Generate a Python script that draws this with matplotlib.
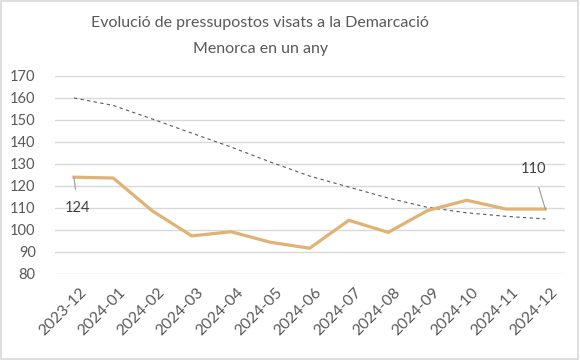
import matplotlib
matplotlib.use("Agg")
import matplotlib.pyplot as plt
import matplotlib.transforms as mtransforms
from matplotlib.patches import Rectangle

months = ["2023-12", "2024-01", "2024-02", "2024-03", "2024-04", "2024-05", "2024-06",
          "2024-07", "2024-08", "2024-09", "2024-10", "2024-11", "2024-12"]
values = [124.0, 123.6, 108.6, 97.3, 99.2, 94.4, 91.7, 104.4, 98.9, 108.8, 113.5, 109.5, 109.5]
trend = [160.0, 156.6, 150.4, 144.0, 137.7, 130.9, 124.5, 119.5, 114.5, 110.3, 107.8, 106.2, 105.0]
yticks = list(range(80, 171, 10))
first_label = "124"
last_label = "110"
title = "Evolució de pressupostos visats a la Demarcació\nMenorca en un any"

plt.rcParams['font.family'] = ['Lato', 'DejaVu Sans']
txt = "#595959"

fig = plt.figure(figsize=(5.8, 3.6), dpi=100)
fig.patches.append(Rectangle((0.002, 0.003), 0.995, 0.994, transform=fig.transFigure,
                             fill=False, edgecolor="#d9d9d9", linewidth=1.2))
ax = fig.add_axes([0.095, 0.239, 0.879, 0.55])

x = list(range(len(months)))
ax.plot(x, trend, color="#595959", linestyle=(0, (3, 3)), linewidth=0.8, zorder=2)
ax.plot(x, values, color="#E0B273", linewidth=2.3, zorder=3, solid_joinstyle="miter")

ax.set_xlim(-0.48, 12.5)
ax.set_ylim(80, 170)
ax.set_yticks(yticks)
ax.set_yticklabels([str(v) for v in yticks], fontsize=10.5, color=txt)
ax.set_xticks(x)
ax.set_xticklabels(months, rotation=45, ha="right", va="top", rotation_mode="anchor",
                   fontsize=11.3, color=txt)
ax.tick_params(axis="x", length=0, pad=8)
ax.tick_params(axis="y", length=0, pad=14)
offset = mtransforms.ScaledTranslation(5 / 100, 0, fig.dpi_scale_trans)
for lbl in ax.get_xticklabels():
    lbl.set_transform(lbl.get_transform() + offset)
ax.grid(axis="y", color="#d9d9d9", linewidth=1)
ax.set_axisbelow(True)
for s in ax.spines.values():
    s.set_visible(False)

ax.annotate(first_label, xy=(x[0], values[0]), xytext=(x[0] + 0.1, 110.2),
            fontsize=10.5, color="#404040", ha="center", va="center",
            arrowprops=dict(arrowstyle="-", color="#999999", linewidth=0.8, shrinkA=6, shrinkB=0))
ax.annotate(last_label, xy=(x[-1], values[-1]), xytext=(x[-1] - 0.3, 127.5),
            fontsize=10.5, color="#404040", ha="center", va="center",
            arrowprops=dict(arrowstyle="-", color="#999999", linewidth=0.8, shrinkA=6, shrinkB=0))

fig.text(0.449, 0.901, title, ha="center", va="center", fontsize=11.5, color=txt,
         linespacing=2.1)

fig.savefig("out.png", dpi=100)
